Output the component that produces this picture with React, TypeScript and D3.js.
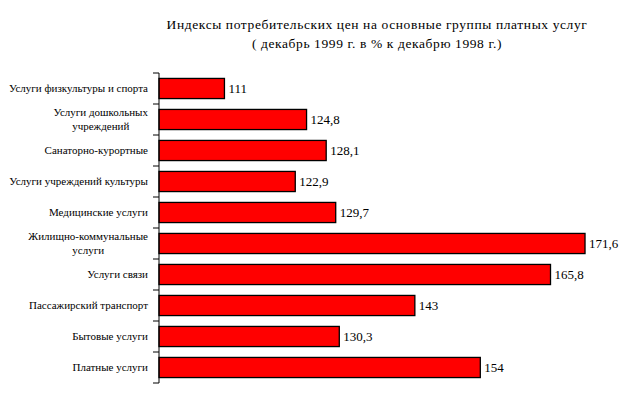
import * as d3 from 'd3';
import { useEffect, useRef } from 'react';

const categories = [
    ['Услуги физкультуры и спорта'],
    ['Услуги дошкольных', 'учреждений'],
    ['Санаторно-курортные'],
    ['Услуги учреждений культуры'],
    ['Медицинские услуги'],
    ['Жилищно-коммунальные', 'услуги'],
    ['Услуги связи'],
    ['Пассажирский транспорт'],
    ['Бытовые услуги'],
    ['Платные услуги'],
];
const values = [111, 124.8, 128.1, 122.9, 129.7, 171.6, 165.8, 143, 130.3, 154];
const titleLines = [
    'Индексы потребительских цен на основные группы платных услуг',
    '( декабрь 1999 г. в % к декабрю 1998 г.)',
];

const FONT = "'Liberation Serif', 'DejaVu Serif', 'Times New Roman', serif";

const BarChart = () => {
    const svgRef = useRef<SVGSVGElement | null>(null);

    useEffect(() => {
        const width = 636;
        const height = 397;

        const svg = d3.select(svgRef.current);
        svg.selectAll('*').remove();
        svg.attr('width', width).attr('height', height).attr('font-family', FONT);

        const idx = categories.map((_, i) => String(i));

        const yScale = d3.scaleBand().domain(idx).range([73, 383]).paddingInner(0.35).paddingOuter(0.175);
        const xScale = d3.scaleLinear().domain([100, 180]).range([159, 635]);

        // заголовок
        svg.append('g')
            .selectAll('text')
            .data(titleLines)
            .enter()
            .append('text')
            .attr('x', 377)
            .attr('y', (d, i) => 29 + i * 19)
            .attr('text-anchor', 'middle')
            .attr('font-size', 13.5)
            .attr('letter-spacing', 0.6)
            .text((d) => d);

        // столбцы
        svg.append('g')
            .selectAll('rect')
            .data(values)
            .enter()
            .append('rect')
            .attr('x', xScale(100))
            .attr('y', (d, i) => yScale(String(i)) as number)
            .attr('width', (d) => xScale(d) - xScale(100))
            .attr('height', yScale.bandwidth())
            .attr('fill', '#ff0000')
            .attr('stroke', '#000')
            .attr('stroke-width', 1.3);

        // подписи значений
        svg.append('g')
            .selectAll('text')
            .data(values)
            .enter()
            .append('text')
            .attr('x', (d) => xScale(d) + 4)
            .attr('y', (d, i) => (yScale(String(i)) as number) + yScale.bandwidth() / 2)
            .attr('dy', '0.35em')
            .attr('font-size', 13)
            .text((d) => String(d).replace('.', ','));

        // ось Y
        const axis = svg.append('g');
        axis.append('line')
            .attr('x1', 159)
            .attr('x2', 159)
            .attr('y1', 73)
            .attr('y2', 383)
            .attr('stroke', '#000')
            .attr('stroke-width', 1);
        const step = yScale.step();
        d3.range(categories.length + 1).forEach((i) => {
            const y = 73 + i * step;
            axis.append('line')
                .attr('x1', 153)
                .attr('x2', 159)
                .attr('y1', y)
                .attr('y2', y)
                .attr('stroke', '#000');
        });

        // подписи категорий
        const labels = svg.append('g');
        categories.forEach((lines, i) => {
            const cy = (yScale(String(i)) as number) + yScale.bandwidth() / 2;
            const g = labels.append('g');
            const texts = lines.map((line, j) =>
                g
                    .append('text')
                    .attr('y', cy + (j - (lines.length - 1) / 2) * 14)
                    .attr('dy', '0.35em')
                    .attr('text-anchor', 'middle')
                    .attr('font-size', 11)
                    .text(line)
            );
            const maxW = d3.max(texts, (t) => (t.node() as SVGTextElement).getComputedTextLength()) || 0;
            texts.forEach((t) => t.attr('x', 148 - maxW / 2));
        });
    }, []);

    return <svg ref={svgRef} style={{ position: 'absolute', left: 0, top: 0, background: '#fff' }} />;
};

export default function App() {
    return <BarChart />;
}
